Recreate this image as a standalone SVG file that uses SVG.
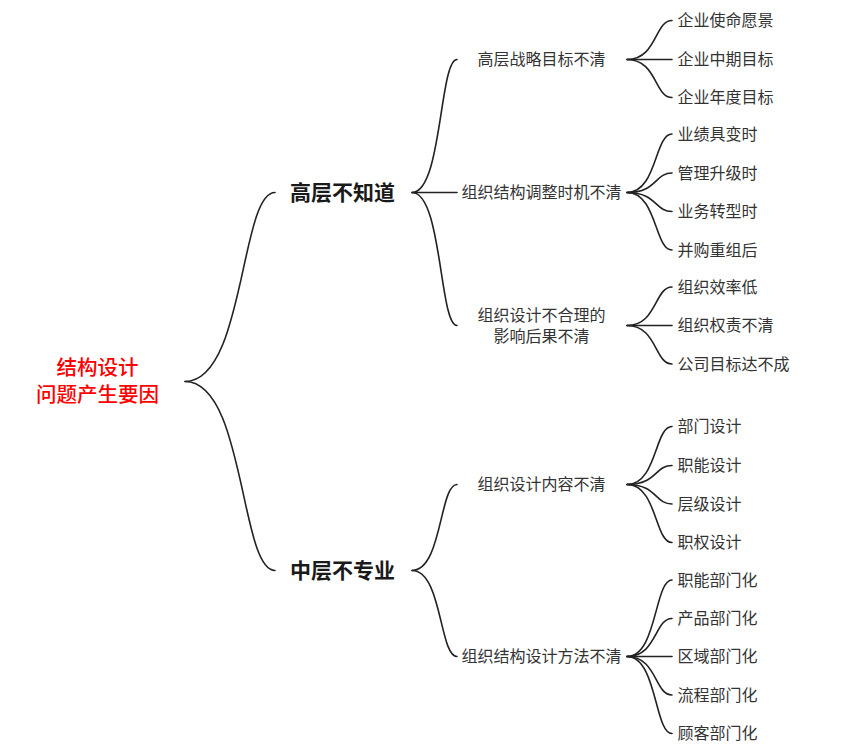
<svg xmlns="http://www.w3.org/2000/svg" width="860" height="756" viewBox="0 0 860 756">
<style>
text{font-family:"Noto Sans CJK SC","Noto Sans",sans-serif;dominant-baseline:central}
.root{font-size:20.5px;fill:#ff0000;font-weight:500;text-anchor:middle}
.l1{font-size:21px;fill:#1a1a1a;font-weight:bold;text-anchor:middle}
.l2{font-size:16px;fill:#333333;text-anchor:middle}
.leaf{font-size:16px;fill:#333333;text-anchor:start}
.c path{fill:none;stroke:#222222;stroke-width:1.6;stroke-linecap:round}
</style>
<rect width="860" height="756" fill="#ffffff"/>
<g class="c" id="connectors">
<path d="M185,381.5 C245,381.5 240,192.5 275,192.5"/>
<path d="M185,381.5 C245,381.5 240,570.5 275,570.5"/>
<path d="M412,192.5 C442,192.5 439.5,59.5 457,59.5"/>
<path d="M412,192.5 L457,192.5"/>
<path d="M412,192.5 C442,192.5 439.5,325.5 457,325.5"/>
<path d="M412,570.5 C442,570.5 439.5,484.5 457,484.5"/>
<path d="M412,570.5 C442,570.5 439.5,656.5 457,656.5"/>
<path d="M627,59.5 C657,59.5 654.5,20.5 672,20.5"/>
<path d="M627,59.5 L672,59.5"/>
<path d="M627,59.5 C657,59.5 654.5,97.5 672,97.5"/>
<path d="M627,192.5 C657,192.5 654.5,134 672,134"/>
<path d="M627,192.5 C657,192.5 654.5,173 672,173"/>
<path d="M627,192.5 C657,192.5 654.5,211.5 672,211.5"/>
<path d="M627,192.5 C657,192.5 654.5,250 672,250"/>
<path d="M627,325.5 C657,325.5 654.5,287 672,287"/>
<path d="M627,325.5 L672,325.5"/>
<path d="M627,325.5 C657,325.5 654.5,364 672,364"/>
<path d="M627,484.5 C657,484.5 654.5,426.5 672,426.5"/>
<path d="M627,484.5 C657,484.5 654.5,465.5 672,465.5"/>
<path d="M627,484.5 C657,484.5 654.5,504 672,504"/>
<path d="M627,484.5 C657,484.5 654.5,542.5 672,542.5"/>
<path d="M627,656.5 C657,656.5 654.5,580 672,580"/>
<path d="M627,656.5 C657,656.5 654.5,618.5 672,618.5"/>
<path d="M627,656.5 L672,656.5"/>
<path d="M627,656.5 C657,656.5 654.5,695 672,695"/>
<path d="M627,656.5 C657,656.5 654.5,733.5 672,733.5"/>
</g>
<g id="root"><text class="root" x="97.5" y="366"><tspan x="97.5" y="366">结构设计</tspan><tspan x="97.5" y="393">问题产生要因</tspan></text></g>
<g id="n-gaoceng"><text class="l1" x="342.5" y="191">高层不知道</text></g>
<g id="n-zhongceng"><text class="l1" x="342.5" y="569">中层不专业</text></g>
<g id="n-zhanlue"><text class="l2" x="541.5" y="58">高层战略目标不清</text></g>
<g id="n-shiji"><text class="l2" x="541.5" y="191">组织结构调整时机不清</text></g>
<g id="n-houguo"><text class="l2" x="541.5" y="313.5"><tspan x="541.5" y="313.5">组织设计不合理的</tspan><tspan x="541.5" y="335">影响后果不清</tspan></text></g>
<g id="n-neirong"><text class="l2" x="541.5" y="483">组织设计内容不清</text></g>
<g id="n-fangfa"><text class="l2" x="541.5" y="655">组织结构设计方法不清</text></g>
<g id="leaf-1"><text class="leaf" x="677.5" y="19">企业使命愿景</text></g>
<g id="leaf-2"><text class="leaf" x="677.5" y="58">企业中期目标</text></g>
<g id="leaf-3"><text class="leaf" x="677.5" y="96">企业年度目标</text></g>
<g id="leaf-4"><text class="leaf" x="677.5" y="132.5">业绩具变时</text></g>
<g id="leaf-5"><text class="leaf" x="677.5" y="171.5">管理升级时</text></g>
<g id="leaf-6"><text class="leaf" x="677.5" y="210">业务转型时</text></g>
<g id="leaf-7"><text class="leaf" x="677.5" y="248.5">并购重组后</text></g>
<g id="leaf-8"><text class="leaf" x="677.5" y="285.5">组织效率低</text></g>
<g id="leaf-9"><text class="leaf" x="677.5" y="324">组织权责不清</text></g>
<g id="leaf-10"><text class="leaf" x="677.5" y="362.5">公司目标达不成</text></g>
<g id="leaf-11"><text class="leaf" x="677.5" y="425">部门设计</text></g>
<g id="leaf-12"><text class="leaf" x="677.5" y="464">职能设计</text></g>
<g id="leaf-13"><text class="leaf" x="677.5" y="502.5">层级设计</text></g>
<g id="leaf-14"><text class="leaf" x="677.5" y="541">职权设计</text></g>
<g id="leaf-15"><text class="leaf" x="677.5" y="578.5">职能部门化</text></g>
<g id="leaf-16"><text class="leaf" x="677.5" y="617">产品部门化</text></g>
<g id="leaf-17"><text class="leaf" x="677.5" y="655">区域部门化</text></g>
<g id="leaf-18"><text class="leaf" x="677.5" y="693.5">流程部门化</text></g>
<g id="leaf-19"><text class="leaf" x="677.5" y="732">顾客部门化</text></g>
</svg>
